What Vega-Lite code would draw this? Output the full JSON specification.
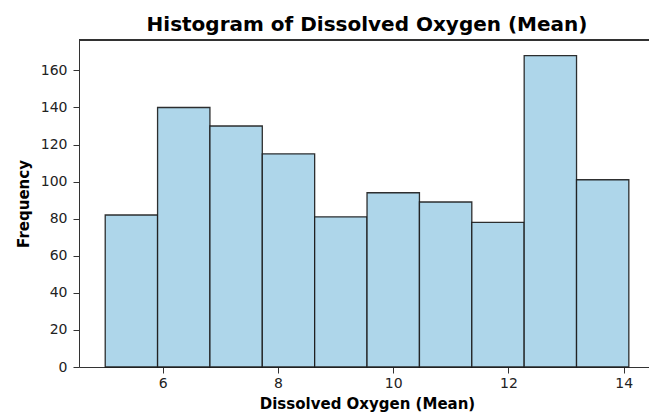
{
  "$schema": "https://vega.github.io/schema/vega-lite/v6.json",
  "autosize": {"type": "none"},
  "padding": {"left": 79, "top": 40, "right": 0, "bottom": 46},
  "width": 570,
  "height": 327,
  "background": "white",
  "title": {
    "text": "Histogram of Dissolved Oxygen (Mean)",
    "font": "DejaVu Sans",
    "fontSize": 20,
    "fontWeight": "bold",
    "color": "black",
    "anchor": "middle",
    "dx": 3,
    "offset": 5
  },
  "config": {
    "view": {"stroke": null},
    "axis": {
      "labelFont": "DejaVu Sans",
      "labelFontSize": 14,
      "labelColor": "#222",
      "titleFont": "DejaVu Sans",
      "titleFontSize": 15,
      "titleFontWeight": "bold",
      "titleColor": "black",
      "domainColor": "#333",
      "tickColor": "#333",
      "tickSize": 6,
      "grid": false
    }
  },
  "data": {
    "values": [
      {"bin_start": 5.0, "bin_end": 5.909, "count": 82},
      {"bin_start": 5.909, "bin_end": 6.818, "count": 140},
      {"bin_start": 6.818, "bin_end": 7.727, "count": 130},
      {"bin_start": 7.727, "bin_end": 8.636, "count": 115},
      {"bin_start": 8.636, "bin_end": 9.545, "count": 81},
      {"bin_start": 9.545, "bin_end": 10.455, "count": 94},
      {"bin_start": 10.455, "bin_end": 11.364, "count": 89},
      {"bin_start": 11.364, "bin_end": 12.273, "count": 78},
      {"bin_start": 12.273, "bin_end": 13.182, "count": 168},
      {"bin_start": 13.182, "bin_end": 14.09, "count": 101}
    ]
  },
  "layer": [
    {
      "mark": {"type": "bar", "fill": "#aed6ea", "stroke": "#1a1a1a", "strokeWidth": 1.3, "strokeOpacity": 0.9},
      "encoding": {
        "x": {
          "field": "bin_start",
          "type": "quantitative",
          "scale": {"domain": [4.545, 14.44], "nice": false, "zero": false},
          "axis": {"values": [6, 8, 10, 12, 14], "title": "Dissolved Oxygen (Mean)", "titleX": 288, "titlePadding": 6, "labelPadding": 3}
        },
        "x2": {"field": "bin_end"},
        "y": {
          "field": "count",
          "type": "quantitative",
          "scale": {"domain": [0, 176.4], "nice": false},
          "axis": {"values": [0, 20, 40, 60, 80, 100, 120, 140, 160], "title": "Frequency", "titlePadding": 9, "labelPadding": 6}
        },
        "y2": {"datum": 0}
      }
    },
    {
      "mark": {"type": "rule", "color": "#333", "strokeWidth": 1},
      "encoding": {"y": {"datum": 176.4, "type": "quantitative"}}
    }
  ]
}
